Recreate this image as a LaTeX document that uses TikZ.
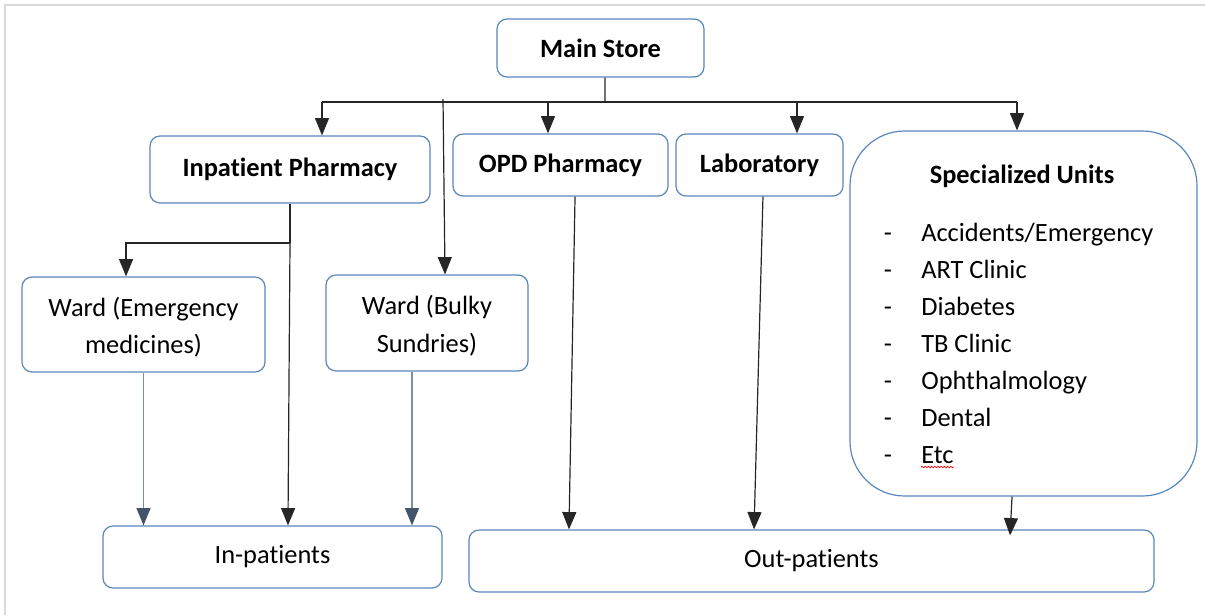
\documentclass[tikz,border=0pt]{standalone}
\usepackage{fontspec}
\setmainfont{Carlito}[Ligatures=NoCommon]
\usetikzlibrary{arrows.meta,decorations.pathmorphing}
\definecolor{boxblue}{HTML}{5A87BE}
\definecolor{slate}{HTML}{44546A}
\definecolor{wardline}{HTML}{7F8DA0}
\definecolor{framegray}{HTML}{D9D9D9}
% two centred lines, set a little below the middle of their box
\newcommand{\twolines}[2]{\raisebox{-2.25pt}[\height][\depth]{\begin{tabular}{@{}c@{}}#1\\#2\end{tabular}}}

\begin{document}
\begin{tikzpicture}[x=0.75pt,y=-0.75pt,
  font=\fontsize{19.8}{27.9}\selectfont,
  box/.style={draw=boxblue, line width=0.9pt, rounded corners=7.5pt, fill=white,
    inner sep=0pt, align=center},
  head/.style={box, font=\fontsize{19.8}{27.9}\selectfont\bfseries},
  link/.style={draw=black!85, line width=0.9pt},
  arr/.style={link, -{Triangle[width=10.5pt,length=13pt]}},
  wardarr/.style={draw=wardline, line width=1pt,
    -{Triangle[width=10.5pt,length=13pt,color=slate,fill=slate]}},
  itemtext/.style={anchor=base west, inner sep=0pt},
  dashmark/.style={anchor=base, inner sep=0pt}
]
\useasboundingbox (0,0) rectangle (1205,615);
% page frame
\draw[framegray, line width=1.5pt] (5,615) -- (5,5) -- (1205,5);

% boxes
\node[head, minimum width=155.25pt, minimum height=43.5pt] (main) at (600.5,48) {Main Store};
\node[head, minimum width=210pt, minimum height=50.25pt] (inph) at (290,169.5) {Inpatient Pharmacy};
\node[head, minimum width=161.25pt, minimum height=46.5pt] (opd) at (560.5,165) {OPD Pharmacy};
\node[head, minimum width=125.25pt, minimum height=46.5pt] (lab) at (759.5,165) {Laboratory};
\node[box, rounded corners=41pt, minimum width=260.25pt, minimum height=273.75pt] (spec) at (1023.5,313.5) {};
\node[box, minimum width=182.25pt, minimum height=71.25pt] (wardE) at (143.5,324.5) {\twolines{Ward (Emergency}{medicines)}};
\node[box, minimum width=151.5pt, minimum height=72pt] (wardB) at (427,323) {\twolines{Ward (Bulky}{Sundries)}};
\node[box, minimum width=254.25pt, minimum height=46.5pt] (inpat) at (272.5,557) {In-patients};
\node[box, minimum width=513.75pt, minimum height=46.5pt] (outpat) at (811.5,561) {Out-patients};

% contents of the specialized units box
\node[anchor=base, inner sep=0pt, font=\fontsize{19.8}{27.9}\selectfont\bfseries] (spectitle) at (1022,183) {Specialized Units};
\foreach \t [count=\i from 0] in {Accidents/Emergency, ART Clinic, Diabetes, TB Clinic, Ophthalmology, Dental, Etc} {
  \node[dashmark] (dash\i) at (888,241+37*\i) {-};
  \node[itemtext] (item\i) at (921,241+37*\i) {\t};
}
\draw[red, line width=0.5pt, decorate, decoration={snake, amplitude=0.6pt, segment length=2.4pt}]
  ([yshift=-3pt]item6.base west) -- ([yshift=-3pt]item6.base east);

% distribution from the main store
\coordinate (trunk) at (605,102);
\coordinate (b1) at (322,102);
\coordinate (b2) at (548,102);
\coordinate (b3) at (797,102);
\coordinate (b4) at (1017,102);
\coordinate (b0) at (443,99);
\draw[link] ([xshift=3.4pt]main.south) -- (trunk);
\draw[link] (b1) -- (b4);
\draw[arr] (b1) -- (b1 |- inph.north);
\draw[arr] (b2) -- (b2 |- opd.north);
\draw[arr] (b3) -- (b3 |- lab.north);
\draw[arr] (b4) -- (b4 |- spec.north);
\draw[arr] (b0) -- ([xshift=13.5pt]wardB.north);

% inpatient pharmacy to the wards and in-patients
\coordinate (j) at (290,243);
\draw[link] (inph.south) -- (j);
\draw[arr] (j) -| ([xshift=-13.1pt]wardE.north);
\draw[arr] (j) -- ([xshift=11.6pt]inpat.north);

% wards to in-patients
\draw[wardarr] (wardE.south) -- (wardE.south |- inpat.north);
\draw[wardarr] ([xshift=-11.25pt]wardB.south) -- ([xshift=-11.25pt]wardB.south |- inpat.north);

% outpatient supply
\draw[arr] ([xshift=10.9pt]opd.south) -- ([xshift=-181.9pt]outpat.north);
\draw[arr] ([xshift=2.6pt]lab.south) -- ([xshift=-43.1pt]outpat.north);
\draw[arr] ([xshift=-8.6pt]spec.south) -- ([xshift=148.9pt,yshift=-4.5pt]outpat.north);
\end{tikzpicture}
\end{document}
